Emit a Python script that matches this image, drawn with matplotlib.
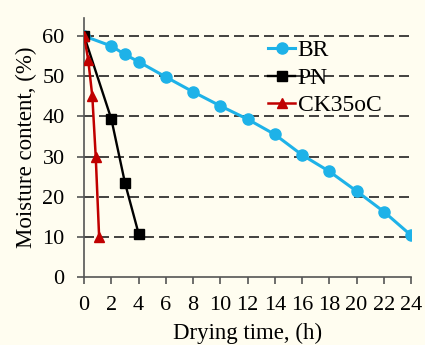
import matplotlib; matplotlib.use("Agg")
import matplotlib.pyplot as plt

plt.rcParams["font.family"] = ["Liberation Serif", "DejaVu Serif"]

br_x = [0, 2, 3, 4, 6, 8, 10, 12, 14, 16, 18, 20, 22, 24]
br_y = [60, 57.5, 55.4, 53.6, 49.8, 46.1, 42.6, 39.3, 35.5, 30.4, 26.3, 21.4, 16.3, 10.4]
pn_x = [0, 2, 3, 4]
pn_y = [60, 39.3, 23.4, 10.8]
ck_x = [0, 0.3, 0.6, 0.85, 1.1]
ck_y = [60, 54, 45, 30, 10]
bg = "#FFFDF0"

fig = plt.figure(figsize=(4.25, 3.45), dpi=100, facecolor=bg)
ax = fig.add_axes([0.198, 0.197, 0.769, 0.751], facecolor=bg)

for yv in range(10, 70, 10):
    ax.axhline(yv, color="#222222", lw=1.2, ls=(0, (6, 3)), zorder=1)

ax.plot(br_x, br_y, color="#1EB2E8", lw=2.2, marker="o", ms=8, label="BR", zorder=3)
ax.plot(pn_x, pn_y, color="black", lw=1.7, marker="s", ms=6.5, label="PN", zorder=4)
ax.plot(ck_x, ck_y, color="#C00000", lw=1.8, marker="^", ms=6.5, label="CK35oC", zorder=5)

ax.set_xlim(0, 24)
ax.set_ylim(0, 64.5)
ax.set_xticks(range(0, 25, 2))
ax.set_yticks(range(0, 61, 10))
for s in ["top", "right"]:
    ax.spines[s].set_visible(False)
for s in ["left", "bottom"]:
    ax.spines[s].set_color("#555555")
    ax.spines[s].set_linewidth(1.2)
ax.tick_params(direction="out", length=5, width=1.2, color="#555555", labelsize=16, pad=9)
ax.set_xlabel("Drying time, (h)", fontsize=16.5, labelpad=5)
ax.set_ylabel("Moisture content, (%)", fontsize=16.5, labelpad=4)

ax.legend(loc="upper left", bbox_to_anchor=(0.563, 0.915), frameon=False, fontsize=17,
          handlelength=1.15, handletextpad=0.1, labelspacing=0.25, borderaxespad=0,
          borderpad=0)

fig.savefig("out.png", dpi=100, facecolor=bg)
